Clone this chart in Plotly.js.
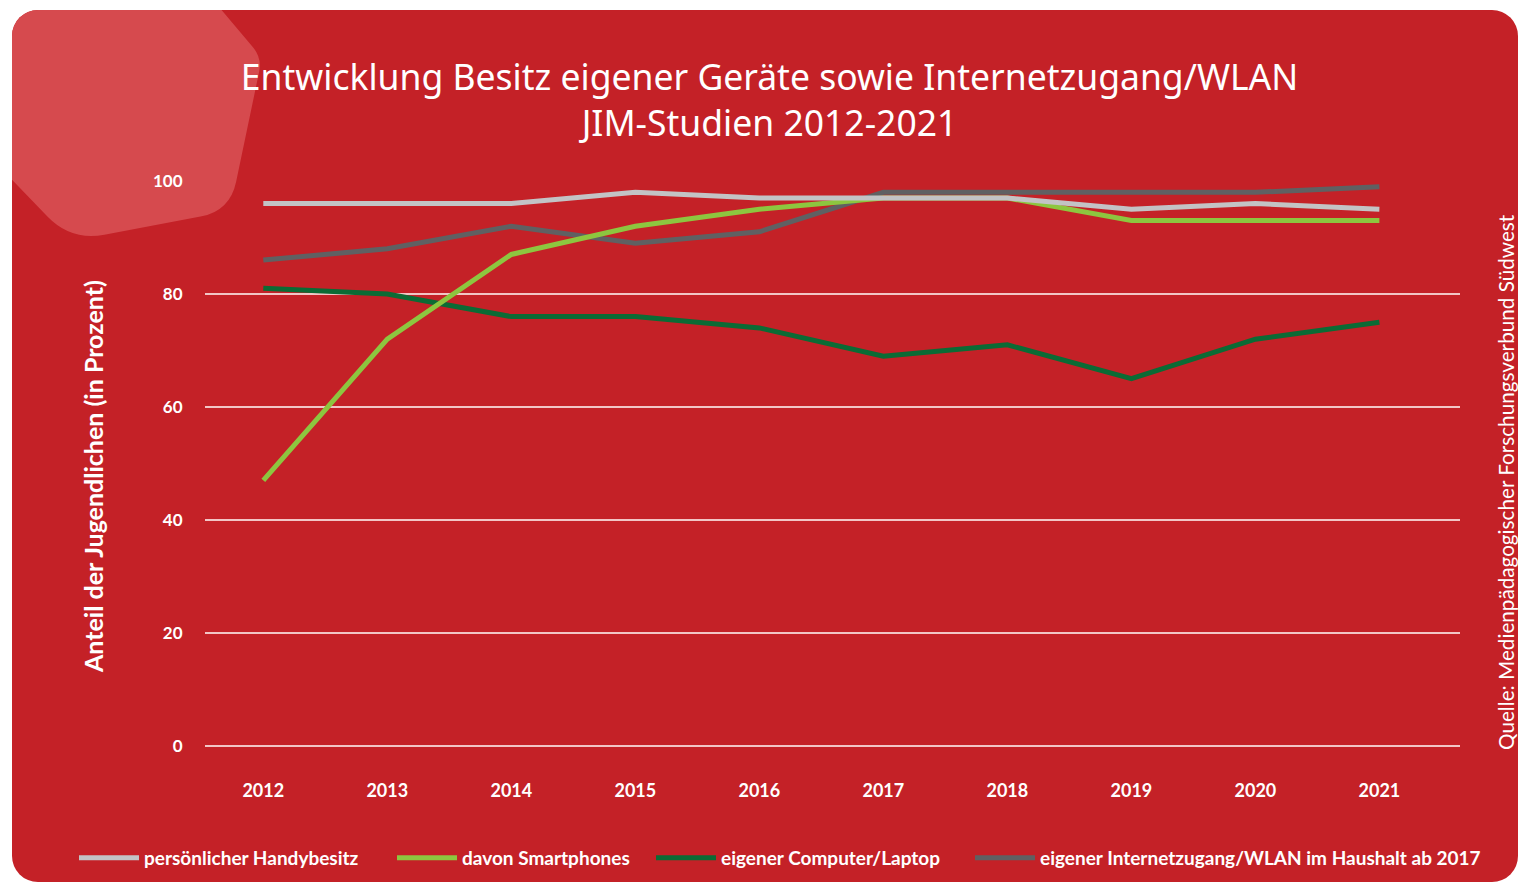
<!DOCTYPE html>
<html>
<head>
<meta charset="utf-8">
<script src="https://cdn.plot.ly/plotly-3.0.1.min.js"></script>
<style>
  html, body { margin: 0; padding: 0; background: #ffffff; width: 1518px; height: 882px; overflow: hidden; }
  #card { position: absolute; left: 12px; top: 10px; width: 1506px; height: 872px;
          border-radius: 26px; overflow: hidden; background: #C42127; }
  #chart { width: 1506px; height: 872px; }
</style>
</head>
<body>
<div id="card"><div id="chart"></div></div>
<script>
// ---- data ----
const years = ['2012','2013','2014','2015','2016','2017','2018','2019','2020','2021'];
const handy    = [96, 96, 96, 98, 97, 97, 97, 95, 96, 95];
const smart    = [47, 72, 87, 92, 95, 97, 97, 93, 93, 93];
const computer = [81, 80, 76, 76, 74, 69, 71, 65, 72, 75];
const internet = [86, 88, 92, 89, 91, 98, 98, 98, 98, 99];
const seriesNames = ['persönlicher Handybesitz', 'davon Smartphones', 'eigener Computer/Laptop', 'eigener Internetzugang/WLAN im Haushalt ab 2017'];
const yTicks = [0, 20, 40, 60, 80, 100];

// ---- layout geometry (card pixels) ----
const W = 1506, H = 872;
const M = {l: 193, r: 58, t: 171, b: 136};
const PW = W - M.l - M.r, PH = H - M.t - M.b;
const px = x => (x - M.l) / PW;
const py = y => (H - M.b - y) / PH;

// decorative rounded pentagon (card pixels)
function roundedPath(pts, radii) {
  const n = pts.length;
  let d = '';
  for (let i = 0; i < n; i++) {
    const p0 = pts[(i - 1 + n) % n], p1 = pts[i], p2 = pts[(i + 1) % n];
    const r = radii[i];
    const v1 = [p0[0] - p1[0], p0[1] - p1[1]], v2 = [p2[0] - p1[0], p2[1] - p1[1]];
    const l1 = Math.hypot(v1[0], v1[1]), l2 = Math.hypot(v2[0], v2[1]);
    const a = [p1[0] + v1[0] / l1 * r, p1[1] + v1[1] / l1 * r];
    const b = [p1[0] + v2[0] / l2 * r, p1[1] + v2[1] / l2 * r];
    d += (i === 0 ? 'M' : 'L') + px(a[0]).toFixed(5) + ',' + py(a[1]).toFixed(5);
    d += ' Q' + px(p1[0]).toFixed(5) + ',' + py(p1[1]).toFixed(5) + ' ' + px(b[0]).toFixed(5) + ',' + py(b[1]).toFixed(5) + ' ';
  }
  return d + 'Z';
}
const pent = [[100, -130], [250, 48], [218, 201], [59, 231], [-120, 45]];
const pentPath = roundedPath(pent, [1, 14, 30, 34, 1]);

const lineW = 5;
const font = 'Lato, "Noto Sans", sans-serif';
const legendIds = ['legend', 'legend2', 'legend3', 'legend4'];
const traces = [
  {name: seriesNames[0], y: handy,    color: '#C3C3C5', lg: legendIds[0]},
  {name: seriesNames[1], y: smart,    color: '#8DC63F', lg: legendIds[1]},
  {name: seriesNames[2], y: computer, color: '#0B6B35', lg: legendIds[2]},
  {name: seriesNames[3], y: internet, color: '#606062', lg: legendIds[3]}
].map(s => ({
  type: 'scatter', mode: 'lines', x: years, y: s.y, name: s.name,
  line: {color: s.color, width: lineW},
  legend: s.lg,
  hoverinfo: 'x+y+name'
}));
// drawing order: handy line on top
const order = [traces[3], traces[2], traces[1], traces[0]];

const legendX = [62, 380, 639, 958];   // card pixels, left edge of each legend box
function legendStyle(x) {
  return {
    orientation: 'h',
    xref: 'container', yref: 'container',
    x: x / W, xanchor: 'left',
    y: 1 - 848 / H, yanchor: 'middle',
    font: {family: font, size: 19, weight: 700, color: '#ffffff'},
    bgcolor: 'rgba(0,0,0,0)',
    itemwidth: 60
  };
}

const layout = {
  width: W, height: H,
  margin: M,
  paper_bgcolor: 'rgba(0,0,0,0)',
  plot_bgcolor: 'rgba(0,0,0,0)',
  font: {family: font, color: '#ffffff'},
  title: {
    text: 'Entwicklung Besitz eigener Geräte sowie Internetzugang/WLAN<br>JIM-Studien 2012-2021',
    font: {family: '"Noto Sans", sans-serif', size: 35.5, color: '#ffffff'},
    x: 0.503, xanchor: 'center', xref: 'container',
    y: 1 - 80 / H, yanchor: 'top', yref: 'container'
  },
  xaxis: {
    type: 'category',
    range: [-0.47, 9.65],
    automargin: false,
    showgrid: false, zeroline: false, showline: false,
    ticks: 'outside', ticklen: 28, tickcolor: 'rgba(0,0,0,0)',
    tickfont: {family: font, size: 18, weight: 700, color: '#ffffff'},
    fixedrange: true
  },
  yaxis: {
    range: [0, 100],
    automargin: false,
    tickvals: yTicks,
    ticktext: yTicks.map(String),
    showgrid: true, gridcolor: '#F2C6C6', gridwidth: 1.5,
    zeroline: true, zerolinecolor: '#F2C6C6', zerolinewidth: 1.5,
    showline: false,
    ticks: 'outside', ticklen: 18, tickcolor: 'rgba(0,0,0,0)',
    tickfont: {family: font, size: 17, weight: 700, color: '#ffffff'},
    fixedrange: true
  },
  showlegend: true,
  legend: legendStyle(legendX[0]),
  legend2: legendStyle(legendX[1]),
  legend3: legendStyle(legendX[2]),
  legend4: legendStyle(legendX[3]),
  shapes: [{
    type: 'path', xref: 'paper', yref: 'paper', path: pentPath,
    fillcolor: '#D64A4E', line: {width: 0}, layer: 'below'
  }],
  annotations: [{
    text: 'Anteil der Jugendlichen (in Prozent)',
    xref: 'paper', yref: 'paper', x: px(81), y: py(466),
    xanchor: 'center', yanchor: 'middle', textangle: -90, showarrow: false,
    font: {family: font, size: 25, weight: 700, color: '#ffffff'}
  }, {
    text: 'Quelle: Medienpädagogischer Forschungsverbund Südwest',
    xref: 'paper', yref: 'paper', x: px(1494), y: py(472),
    xanchor: 'center', yanchor: 'middle', textangle: -90, showarrow: false,
    font: {family: font, size: 20.7, color: '#ffffff'}
  }]
};

Plotly.newPlot('chart', order, layout, {displayModeBar: false});
</script>
</body>
</html>
